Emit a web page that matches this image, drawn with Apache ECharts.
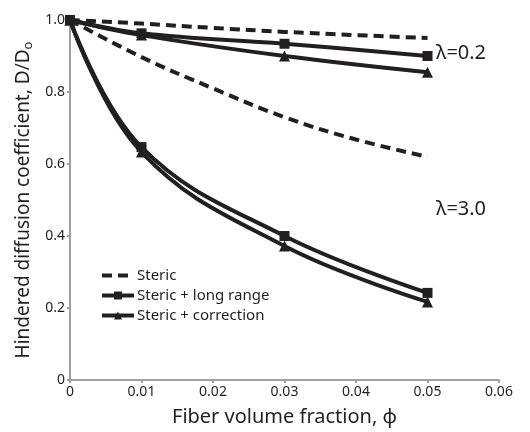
<!DOCTYPE html>
<html>
<head>
<meta charset="utf-8">
<script src="https://cdn.jsdelivr.net/npm/echarts@6/dist/echarts.min.js"></script>
<style>
  html, body { margin: 0; padding: 0; background: #fff; }
  #chart { width: 530px; height: 432px; }
</style>
</head>
<body>
<div id="chart"></div>
<script>
// fiber volume fraction
const phiDense = [0, 0.01, 0.02, 0.03, 0.04, 0.05];
const phiPts = [0, 0.01, 0.03, 0.05];

// lambda = 0.2
const steric02 = [1.0, 0.99, 0.978, 0.967, 0.958, 0.95];
const longRange02 = [1.0, 0.963, 0.934, 0.90];
const correction02 = [1.0, 0.958, 0.90, 0.855];

// lambda = 3.0
const steric30 = [1.0, 0.897, 0.81, 0.73, 0.668, 0.62];
const longRange30 = [1.0, 0.647, 0.40, 0.242];
const correction30 = [1.0, 0.633, 0.372, 0.217];

const ink = '#231f20';
const axisGray = '#a0a0a0';
const font = 'Noto Sans';

function pair(xs, ys) {
  return xs.map((x, i) => [x, ys[i]]);
}

function dashed(name, data) {
  return {
    name: name,
    type: 'line',
    data: pair(phiDense, data),
    smooth: 0.4,
    symbol: 'none',
    lineStyle: { color: ink, width: 4, type: [10, 6] },
    itemStyle: { color: ink }
  };
}

function solid(name, data, symbol, size) {
  return {
    name: name,
    type: 'line',
    data: pair(phiPts, data),
    smooth: 0.4,
    symbol: symbol,
    symbolSize: size,
    showAllSymbol: true,
    lineStyle: { color: ink, width: 4 },
    itemStyle: { color: ink }
  };
}

const chart = echarts.init(document.getElementById('chart'), null, { renderer: 'canvas' });

const option = {
  animation: false,
  textStyle: { fontFamily: font, color: ink },
  grid: { left: 70, right: 31, top: 20, bottom: 52 },
  legend: {
    orient: 'vertical',
    left: 95,
    top: 263,
    itemWidth: 32,
    itemHeight: 10,
    itemGap: 5,
    lineStyle: { width: 4 },
    textStyle: { fontFamily: font, fontSize: 15, color: ink, padding: [0, 0, 0, -2] },
    data: [
      { name: 'Steric', itemStyle: { color: 'rgba(0,0,0,0)', borderWidth: 0 } },
      'Steric + long range',
      'Steric + correction'
    ]
  },
  xAxis: {
    type: 'value',
    min: 0,
    max: 0.06,
    interval: 0.01,
    name: 'Fiber volume fraction, φ',
    nameLocation: 'middle',
    nameGap: 27,
    nameTextStyle: { fontFamily: font, fontSize: 20, color: ink },
    axisLine: { lineStyle: { color: axisGray, width: 2 } },
    axisTick: { show: true, length: 3, lineStyle: { color: axisGray, width: 2 } },
    splitLine: { show: false },
    axisLabel: {
      fontSize: 14, color: ink, margin: 5,
      formatter: v => (v === 0 ? '0' : v.toFixed(2))
    }
  },
  yAxis: {
    type: 'value',
    min: 0,
    max: 1,
    interval: 0.2,
    name: 'Hindered diffusion coefficient, D/D{sub|o}',
    nameLocation: 'middle',
    nameGap: 34,
    nameTextStyle: {
      fontFamily: font, fontSize: 19, color: ink,
      rich: { sub: { fontFamily: font, fontSize: 13, color: ink, verticalAlign: 'bottom', padding: [8, 0, 0, 0] } }
    },
    axisLine: { show: true, lineStyle: { color: axisGray, width: 2 } },
    axisTick: { show: true, length: 3, lineStyle: { color: axisGray, width: 2 } },
    splitLine: { show: false },
    axisLabel: {
      fontSize: 14, color: ink, margin: 5,
      formatter: v => (v === 0 ? '0' : v.toFixed(1))
    }
  },
  graphic: [
    { type: 'text', left: 436, top: 43, style: { text: 'λ=0.2', font: '20px "Noto Sans"', fill: ink } },
    { type: 'text', left: 436, top: 199, style: { text: 'λ=3.0', font: '20px "Noto Sans"', fill: ink } }
  ],
  series: [
    dashed('Steric', steric02),
    dashed('Steric', steric30),
    solid('Steric + long range', longRange02, 'rect', 10),
    solid('Steric + long range', longRange30, 'rect', 10),
    solid('Steric + correction', correction02, 'triangle', 11),
    solid('Steric + correction', correction30, 'triangle', 11)
  ]
};

chart.setOption(option);
</script>
</body>
</html>
